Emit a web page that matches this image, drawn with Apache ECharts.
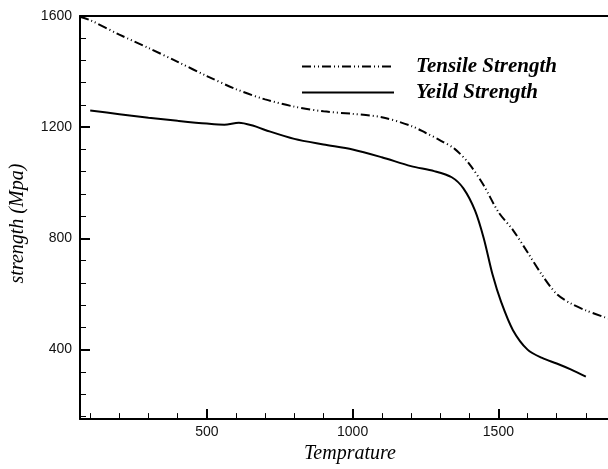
<!DOCTYPE html>
<html>
<head>
<meta charset="utf-8">
<script src="https://cdn.jsdelivr.net/npm/echarts@6/dist/echarts.min.js"></script>
<style>html,body{margin:0;padding:0;background:#fff}#c{width:608px;height:469px}</style>
</head>
<body>
<div id="c"></div>
<script>
var tensileT = [65,100,200,300,400,500,600,700,800,900,1000,1100,1200,1250,1300,1350,1400,1450,1500,1550,1600,1650,1700,1750,1800,1876];
var tensileS = [1597,1585,1533,1485,1435,1384,1337,1300,1274,1257,1248,1236,1205,1180,1153,1122,1068,990,895,830,750,668,600,565,541,512];
var yieldT = [100,200,300,400,500,560,610,660,700,800,900,1000,1100,1200,1280,1340,1380,1420,1450,1480,1510,1550,1600,1650,1700,1750,1800];
var yieldS = [1260,1247,1234,1223,1213,1209,1216,1205,1190,1158,1138,1120,1092,1060,1042,1020,980,900,800,670,570,470,400,370,350,328,303];
var xMajor = [500,1000,1500];
var xMinor = [100,200,300,400,500,600,700,800,900,1000,1100,1200,1300,1400,1500,1600,1700,1800];
var yMajor = [400,800,1200,1600];
var yMinor = [160,240,320,400,480,560,640,720,800,880,960,1040,1120,1200,1280,1360,1440,1520,1600];
var seriesNames = ['Tensile Strength','Yeild Strength'];
var xTitle = 'Temprature';
var yTitle = 'strength (Mpa)';

function pairs(a,b){return a.map(function(v,i){return [v,b[i]];});}
function plain(v){return String(v);}
var XMIN=65, XMAX=1876, YMIN=150, YMAX=1600;
var black='#000';
var serif='"Liberation Serif", "Times New Roman", serif';
var sans='"Liberation Sans", Arial, sans-serif';
var chart = echarts.init(document.getElementById('c'), null, {renderer:'canvas'});
chart.setOption({
  animation:false,
  backgroundColor:'#fff',
  grid:{left:80,right:0,top:16,bottom:46},
  legend:{
    orient:'vertical', left:296, top:51, itemWidth:92, itemHeight:14, itemGap:5,
    data:seriesNames,
    itemStyle:{opacity:0},
    textStyle:{fontFamily:serif, fontStyle:'italic', fontWeight:'bold', fontSize:21, color:'#000', padding:[0,0,0,17]}
  },
  xAxis:[
    {type:'value', min:XMIN, max:XMAX, position:'bottom',
     name:xTitle, nameLocation:'middle', nameGap:17,
     nameTextStyle:{fontFamily:serif, fontStyle:'italic', fontSize:20, color:'#000', padding:[0,0,0,12]},
     axisLine:{show:true, lineStyle:{color:black, width:2}},
     axisTick:{show:true, inside:true, length:6, customValues:xMinor, lineStyle:{color:black, width:1}},
     axisLabel:{show:true, customValues:xMajor, formatter:plain, margin:6, fontFamily:sans, fontSize:14, color:'#111'},
     splitLine:{show:false}},
    {type:'value', min:XMIN, max:XMAX, position:'top',
     axisLine:{show:true, onZero:false, lineStyle:{color:black, width:2}},
     axisTick:{show:false}, axisLabel:{show:false}, splitLine:{show:false}},
    {type:'value', min:XMIN, max:XMAX, position:'bottom',
     axisLine:{show:false},
     axisTick:{show:true, inside:true, length:10, customValues:xMajor, lineStyle:{color:black, width:2}},
     axisLabel:{show:false}, splitLine:{show:false}}
  ],
  yAxis:[
    {type:'value', min:YMIN, max:YMAX, position:'left',
     name:yTitle, nameLocation:'middle', nameGap:52, nameRotate:90,
     nameTextStyle:{fontFamily:serif, fontStyle:'italic', fontSize:20, color:'#000', padding:[0,12,0,0]},
     axisLine:{show:true, lineStyle:{color:black, width:2}},
     axisTick:{show:true, inside:true, length:6, customValues:yMinor, lineStyle:{color:black, width:1}},
     axisLabel:{show:true, customValues:yMajor, formatter:plain, margin:8, fontFamily:sans, fontSize:14, color:'#111'},
     splitLine:{show:false}},
    {type:'value', min:YMIN, max:YMAX, position:'left',
     axisLine:{show:false},
     axisTick:{show:true, inside:true, length:10, customValues:yMajor, lineStyle:{color:black, width:2}},
     axisLabel:{show:false}, splitLine:{show:false}}
  ],
  series:[
    {name:seriesNames[0], type:'line', xAxisIndex:0, yAxisIndex:0, data:pairs(tensileT,tensileS),
     symbol:'none', smooth:0.3,
     lineStyle:{color:black, width:2, type:[9,3,1,3,1,3]}, itemStyle:{color:black}},
    {name:seriesNames[1], type:'line', xAxisIndex:0, yAxisIndex:0, data:pairs(yieldT,yieldS),
     symbol:'none', smooth:0.3,
     lineStyle:{color:black, width:2, type:'solid'}, itemStyle:{color:black}}
  ]
});
</script>
</body>
</html>
